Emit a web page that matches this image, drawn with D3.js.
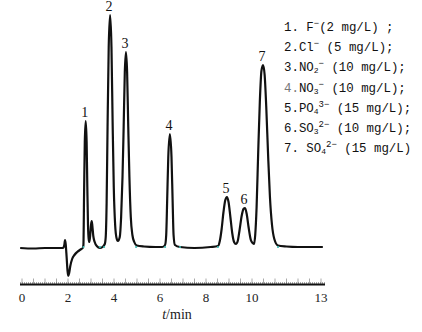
<!DOCTYPE html>
<html>
<head>
<meta charset="utf-8">
<script src="https://cdn.jsdelivr.net/npm/d3@7"></script>
<style>
  body { margin: 0; background: #fff; }
</style>
</head>
<body>
<div id="chart"></div>
<script>
let w = 422;
let h = 332;

// chromatogram trace: retention time (min) and signal (arb.)
let traceTime = [
  -0.08, 0.5, 1.0, 1.5, 1.78, 1.84, 1.87, 1.90, 1.94, 1.98, 2.01, 2.05, 2.10, 2.18, 2.28, 2.40, 2.55, 2.64,
  2.67, 2.70, 2.73, 2.77, 2.81, 2.84, 2.87, 2.90, 2.93, 2.97, 3.00, 3.03, 3.06, 3.10, 3.16, 3.25, 3.39,
  3.50, 3.60, 3.64, 3.68, 3.72, 3.77, 3.83, 3.89, 3.94, 3.99, 4.05, 4.11, 4.17,
  4.25, 4.31, 4.37, 4.42, 4.47, 4.52, 4.57, 4.62, 4.67, 4.73, 4.80, 4.88, 4.99, 5.3, 5.8, 6.10,
  6.22, 6.27, 6.31, 6.36, 6.43, 6.50, 6.55, 6.59, 6.65, 6.87, 7.5, 8.2,
  8.52, 8.60, 8.68, 8.76, 8.84, 8.91, 8.98, 9.06, 9.14, 9.22, 9.30,
  9.38, 9.46, 9.55, 9.63, 9.70, 9.77, 9.85, 9.95, 10.03, 10.09,
  10.14, 10.20, 10.27, 10.34, 10.41, 10.48, 10.55, 10.62, 10.70, 10.78, 10.87, 10.97, 11.13, 11.5, 12.0, 13.08
];
let traceSignal = [
  -1, -1.5, -1, -1, -1, 2, 7, 3, -10, -24, -29, -26, -19, -12, -8, -5, -2.5, -1,
  2, 55, 105, 126, 105, 60, 22, 8, 5, 13, 22, 26, 21, 11, 5, 1, -1,
  0, 3, 10, 45, 120, 200, 232, 200, 125, 60, 22, 9, 6,
  10, 30, 70, 120, 175, 195, 175, 120, 70, 30, 12, 5, 1.5, 0.5, 0, 0,
  2, 12, 45, 90, 113, 90, 45, 12, 2, 0, -1, 0,
  1, 6, 18, 35, 47, 50, 45, 30, 14, 5, 3,
  6, 17, 31, 38, 39, 33, 20, 7, 4, 3,
  12, 40, 95, 145, 176, 182, 172, 140, 92, 50, 22, 8, 1.5, 0.5, 0, 0
];

// peak labels: number, retention time, height
let peakNames = ["1", "2", "3", "4", "5", "6", "7"];
let peakTimes = [2.77, 3.83, 4.52, 6.43, 8.91, 9.70, 10.48];
let peakHeights = [126, 232, 195, 113, 50, 39, 182];

// small integration markers on the baseline
let markerTimes = [2.67, 3.39, 3.57, 4.96, 6.22, 6.87, 8.52, 11.13];

// axis ticks
let tickValues = [0, 2, 4, 6, 8, 10, 13];

// legend
let legendNums = ["1.", "2.", "3.", "4.", "5.", "6.", "7."];
let legendGap = [" ", "", "", "", "", "", " "];
let ionBase = ["F", "Cl", "NO", "NO", "PO", "SO", "SO"];
let ionSub = ["", "", "2", "3", "4", "3", "4"];
let ionCharge = ["\u2212", "\u2212", "\u2212", "\u2212", "3\u2212", "2\u2212", "2\u2212"];
let concText = ["(2 mg/L) ;", " (5 mg/L);", " (10 mg/L);", " (10 mg/L);", " (15 mg/L);", " (10 mg/L);", " (15 mg/L)"];

let traceData = traceTime.map((t, i) => ({t: t, s: traceSignal[i]}));

let viz = d3.select("#chart")
  .append("svg")
    .attr("width", w)
    .attr("height", h)
    .style("background-color", "#fff");

let xScale = d3.scaleLinear().domain([0, 13]).range([22, 321]);
let yScale = d3.scaleLinear().domain([0, 232]).range([247, 15]);

// x axis: thick line, faint half-minute ticks, dotted texture
let axisY = 284.5;
let axisGroup = viz.append("g").attr("class", "xaxis");

axisGroup.selectAll(".minor")
  .data(d3.range(0, 13.01, 0.5))
  .enter()
  .append("line")
    .attr("class", "minor")
    .attr("x1", d => xScale(d))
    .attr("x2", d => xScale(d))
    .attr("y1", axisY - 6)
    .attr("y2", axisY - 1)
    .attr("stroke", "#aaa")
    .attr("stroke-width", 1);

axisGroup.append("line")
  .attr("x1", 20).attr("x2", 325)
  .attr("y1", axisY - 1.5).attr("y2", axisY - 1.5)
  .attr("stroke", "#555")
  .attr("stroke-width", 1)
  .attr("stroke-dasharray", "1,1");

axisGroup.append("line")
  .attr("x1", 20).attr("x2", 325)
  .attr("y1", axisY).attr("y2", axisY)
  .attr("stroke", "#111")
  .attr("stroke-width", 2);

axisGroup.selectAll(".ticklabel")
  .data(tickValues)
  .enter()
  .append("text")
    .attr("class", "ticklabel")
    .attr("x", d => xScale(d))
    .attr("y", 302)
    .attr("text-anchor", "middle")
    .attr("font-family", "Liberation Serif, serif")
    .attr("font-size", 13)
    .attr("fill", "#222")
    .text(d => d);

let xLabel = axisGroup.append("text")
  .attr("x", 177)
  .attr("y", 319)
  .attr("text-anchor", "middle")
  .attr("font-family", "Liberation Serif, serif")
  .attr("font-size", 14)
  .attr("fill", "#222");
xLabel.append("tspan").attr("font-style", "italic").text("t");
xLabel.append("tspan").text("/min");

// the chromatogram
let line = d3.line()
  .x(d => xScale(d.t))
  .y(d => yScale(d.s))
  .curve(d3.curveMonotoneX);

viz.append("path")
  .datum(traceData)
  .attr("d", line)
  .attr("fill", "none")
  .attr("stroke", "#111")
  .attr("stroke-width", 2.2)
  .attr("stroke-linejoin", "round");

viz.selectAll(".marker")
  .data(markerTimes)
  .enter()
  .append("circle")
    .attr("class", "marker")
    .attr("cx", d => xScale(d))
    .attr("cy", yScale(0))
    .attr("r", 1.1)
    .attr("fill", "#3cb8b0");

// peak numbers
viz.selectAll(".peaklabel")
  .data(peakNames)
  .enter()
  .append("text")
    .attr("class", "peaklabel")
    .attr("x", (d, i) => xScale(peakTimes[i]) - 1)
    .attr("y", (d, i) => yScale(peakHeights[i]) - 4)
    .attr("text-anchor", "middle")
    .attr("font-family", "Liberation Serif, serif")
    .attr("font-size", 14)
    .attr("fill", "#111")
    .text(d => d);

// legend
let legend = viz.append("g").attr("class", "legend")
  .attr("font-family", "Liberation Mono, monospace")
  .attr("font-size", 12.4)
  .attr("fill", "#111");

legendNums.forEach((num, i) => {
  let txt = legend.append("text")
    .attr("x", 284)
    .attr("y", 31 + i * 20.2);
  txt.append("tspan").attr("fill", i == 3 ? "#777" : "#111").text(num);
  txt.append("tspan").text(legendGap[i] + ionBase[i]);
  if (ionSub[i] != "") {
    txt.append("tspan").attr("font-size", 8).attr("dy", 2).text(ionSub[i]);
    txt.append("tspan").attr("font-size", 9).attr("dy", -7).text(ionCharge[i]);
  } else {
    txt.append("tspan").attr("font-size", 9).attr("dy", -5).text(ionCharge[i]);
  }
  txt.append("tspan").attr("dy", 5).text(concText[i]);
});
</script>
</body>
</html>
